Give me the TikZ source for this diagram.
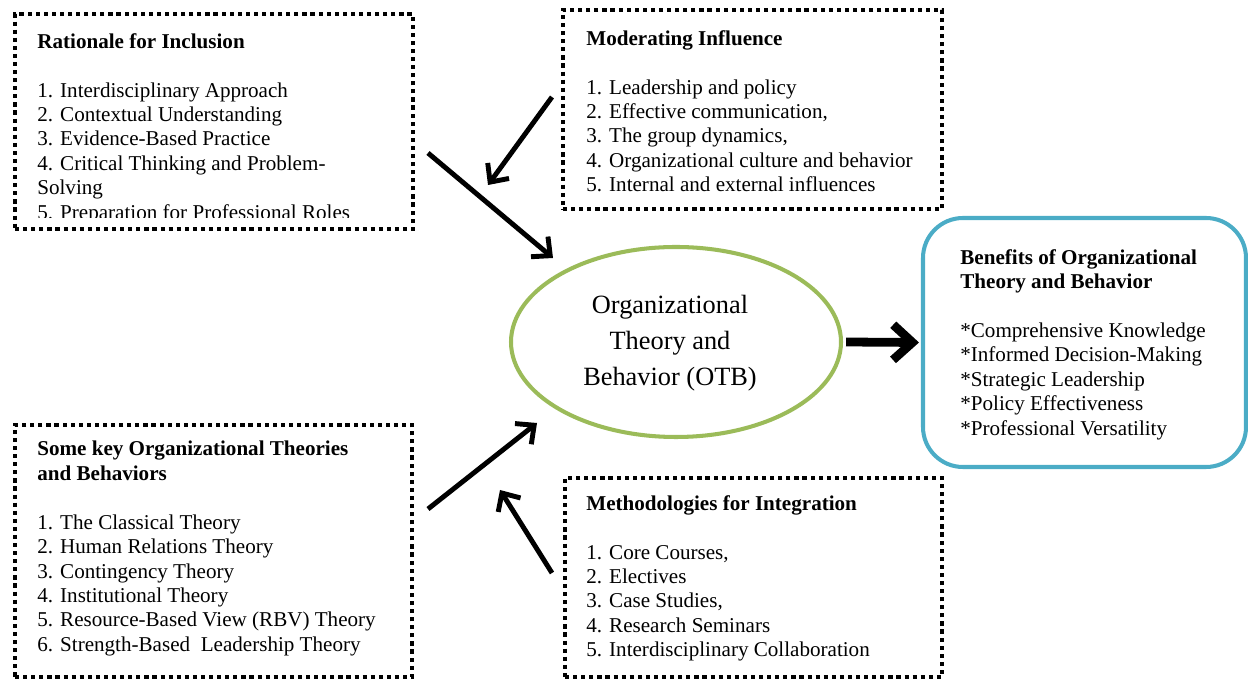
\documentclass[tikz,border=0pt]{standalone}
\usepackage{fontspec}
\setmainfont{Liberation Serif}
\usetikzlibrary{shapes.geometric,arrows.meta}
\definecolor{otbgreen}{RGB}{155,187,89}
\definecolor{benblue}{RGB}{75,172,198}

\begin{document}
\begin{tikzpicture}[
    dotbox/.style={draw, line width=2.6pt, dash pattern=on 2.4pt off 2.2pt, inner sep=0pt},
    boxtext/.style={anchor=north west, inner sep=0pt, align=left, font=\fontsize{12}{13.9}\selectfont},
    flow/.style={-{Straight Barb[length=8pt,width=15pt]}, line width=2.8pt},
    bigflow/.style={-{Straight Barb[length=11pt,width=20pt]}, line width=5pt}]
                    \useasboundingbox (0,0) rectangle (24.96,-13.58);

                    % Boxes
                    \node[dotbox, minimum width=7.96cm, minimum height=4.30cm] (Rationale) at (4.28,-2.43) {};
                    \node[dotbox, minimum width=7.58cm, minimum height=3.98cm] (Moderating) at (15.05,-2.19) {};
                    \node[dotbox, minimum width=7.94cm, minimum height=5.04cm] (Theories) at (4.27,-11.02) {};
                    \node[dotbox, minimum width=7.54cm, minimum height=3.98cm] (Methods) at (15.07,-11.55) {};
                    \node[draw=benblue, line width=2.3pt, rounded corners=0.8cm, minimum width=6.46cm, minimum height=4.98cm] (Benefits) at (21.69,-6.85) {};

                    % Centre
                    \node[draw=otbgreen, line width=2.3pt, ellipse, minimum width=6.6cm, minimum height=3.8cm, align=center, font=\fontsize{15}{20.5}\selectfont] (OTB) at (13.52,-6.84) {};
                    \node[align=center, font=\fontsize{15}{20.5}\selectfont] (OTB-text) at (13.40,-6.86) {Organizational\\Theory and\\Behavior (OTB)};

                    % Texts
                    \begin{scope}
                        \clip (0.3,-0.28) rectangle (8.26,-4.36);
                        \node[boxtext] (Rationale-text) at (0.74,-0.66) {\textbf{Rationale for Inclusion}\\[13.9pt]
                            1. Interdisciplinary Approach\\2. Contextual Understanding\\3. Evidence-Based Practice\\4. Critical Thinking and Problem-\\Solving\\5. Preparation for Professional Roles};
                    \end{scope}
                    \node[boxtext] (Moderating-text) at (11.72,-0.60) {\textbf{Moderating Influence}\\[13.9pt]
                        1. Leadership and policy\\2. Effective communication,\\3. The group dynamics,\\4. Organizational culture and behavior\\5. Internal and external influences};
                    \node[boxtext] (Theories-text) at (0.74,-8.82) {\textbf{Some key Organizational Theories}\\\textbf{and Behaviors}\\[13.9pt]
                        1. The Classical Theory\\2. Human Relations Theory\\3. Contingency Theory\\4. Institutional Theory\\5. Resource-Based View (RBV) Theory\\6. Strength-Based\ \ Leadership Theory};
                    \node[boxtext] (Methods-text) at (11.72,-9.90) {\textbf{Methodologies for Integration}\\[13.9pt]
                        1. Core Courses,\\2. Electives\\3. Case Studies,\\4. Research Seminars\\5. Interdisciplinary Collaboration};
                    \node[boxtext] (Benefits-text) at (19.20,-4.98) {\textbf{Benefits of Organizational}\\\textbf{Theory and Behavior}\\[13.9pt]
                        *Comprehensive Knowledge\\*Informed Decision-Making\\*Strategic Leadership\\*Policy Effectiveness\\*Professional Versatility};

                    % Arrow ends
                    \coordinate (a1-from) at (8.56,-3.06);
                    \coordinate (a1-to) at (11.06,-5.16);
                    \coordinate (a2-from) at (11.04,-1.94);
                    \coordinate (a2-to) at (9.76,-3.70);
                    \coordinate (a3-from) at (8.56,-10.18);
                    \coordinate (a3-to) at (10.74,-8.46);
                    \coordinate (a4-from) at (11.04,-11.46);
                    \coordinate (a4-to) at (10.00,-9.80);

                    % Arrows
                    \draw[flow] (a1-from) -- (a1-to);
                    \draw[flow] (a2-from) -- (a2-to);
                    \draw[flow] (a3-from) -- (a3-to);
                    \draw[flow] (a4-from) -- (a4-to);
                    \draw[bigflow] ([xshift=0.06cm]OTB.east) -- ([xshift=-0.04cm]Benefits.west);
\end{tikzpicture}
\end{document}
